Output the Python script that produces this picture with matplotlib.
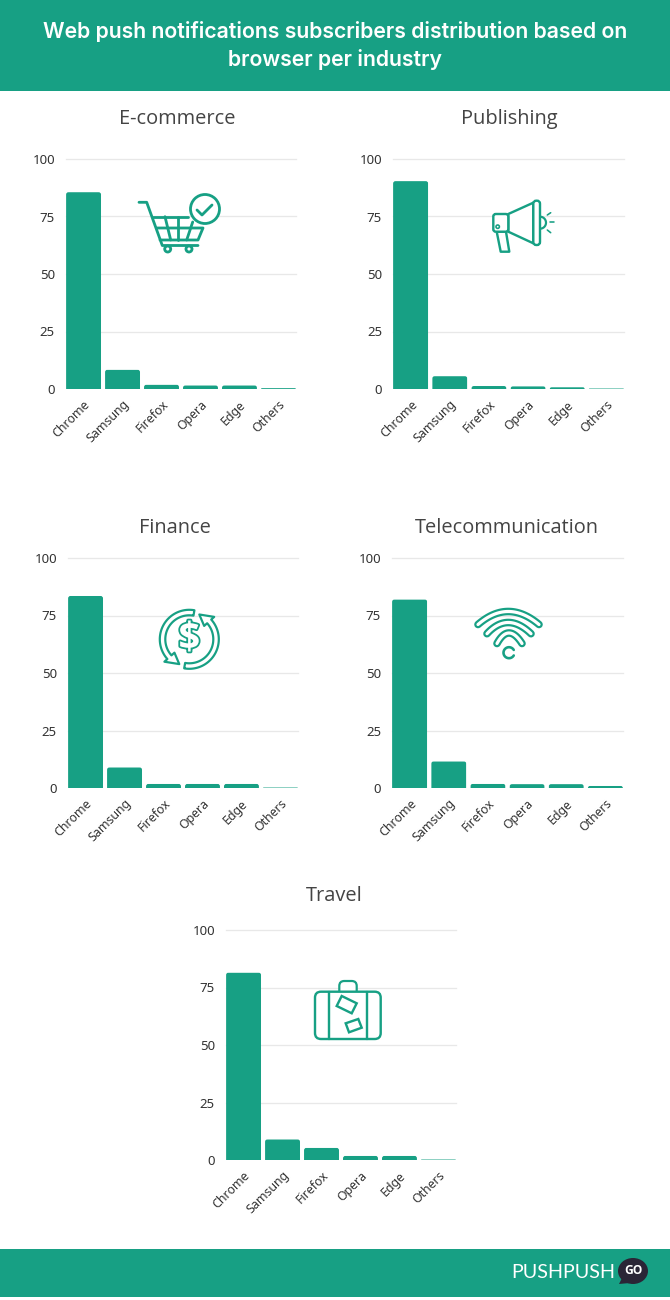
import numpy as np
import matplotlib
matplotlib.use("Agg")
import matplotlib.pyplot as plt
import matplotlib.patheffects as pe
from matplotlib.lines import Line2D
from matplotlib.patches import Circle, FancyBboxPatch, Polygon, Rectangle, Ellipse
from matplotlib.transforms import IdentityTransform

TEAL = "#17a084"
INK = "#333333"
FIG_W, FIG_H = 670, 1300

browsers = ["Chrome", "Samsung", "Firefox", "Opera", "Edge", "Others"]
ecommerce = [85.6, 8.4, 1.9, 1.6, 1.6, 0.4]
publishing = [90.4, 5.6, 1.3, 1.2, 0.8, 0.3]
finance = [83.5, 9.0, 1.8, 1.8, 1.8, 0.3]
telecommunication = [82.0, 11.6, 1.8, 1.7, 1.7, 0.9]
travel = [81.5, 9.0, 5.3, 1.8, 1.8, 0.3]
y_ticks = [0, 25, 50, 75, 100]

plt.rcParams["font.family"] = ["Noto Sans", "DejaVu Sans"]
fig = plt.figure(figsize=(FIG_W / 100, FIG_H / 100), dpi=100, facecolor="white")


def px(size):
    """Convert a length in pixels to points at 100 dpi."""
    return size * 0.72


def panel(title, values, left, right, top, bottom, title_x, title_y):
    ax = fig.add_axes([left / FIG_W, 1 - bottom / FIG_H,
                       (right - left) / FIG_W, (bottom - top) / FIG_H])
    ax.set_xlim(-0.45, 5.45)
    ax.set_ylim(0, 100)
    bars = ax.bar(range(len(browsers)), values, width=0.897, color=TEAL, zorder=3)
    ax.set_yticks(y_ticks)
    ax.set_xticks(range(len(browsers)))
    ax.set_xticklabels(browsers, rotation=45, ha="right", rotation_mode="anchor")
    ax.tick_params(axis="y", length=0, labelsize=px(13.2), labelcolor=INK, pad=px(11))
    ax.tick_params(axis="x", length=0, labelsize=px(12.4), labelcolor=INK, pad=px(9))
    ax.grid(axis="y", color="#e8e8e8", linewidth=px(1.3), zorder=0)
    ax.set_axisbelow(True)
    for gridline in ax.yaxis.get_gridlines():
        gridline.set_clip_on(False)
    ax.yaxis.get_gridlines()[0].set_visible(False)
    for spine in ax.spines.values():
        spine.set_visible(False)

    # Round the top corners of every bar by clipping it in display space.
    for bar in bars:
        (x0, y0), (x1, y1) = ax.transData.transform(
            [(bar.get_x(), 0), (bar.get_x() + bar.get_width(), bar.get_height())])
        clip = FancyBboxPatch((x0, y0 - 6), x1 - x0, y1 - y0 + 6,
                              boxstyle=f"round,pad=0,rounding_size={min(2.5, y1 - y0 + 0.2):.2f}",
                              transform=IdentityTransform())
        bar.set_clip_path(clip)
        bar.set_snap(False)

    overlay.text(title_x, title_y, title, ha="center", va="center",
                 fontsize=px(20), color="#444444", family="Open Sans")


overlay = fig.add_axes([0, 0, 1, 1], zorder=5)
overlay.set_xlim(0, FIG_W)
overlay.set_ylim(FIG_H, 0)
overlay.axis("off")
overlay.patch.set_alpha(0)

# Header and footer bands
overlay.add_patch(Rectangle((0, 0), FIG_W, 91, color=TEAL, lw=0))
overlay.add_patch(Rectangle((0, 1249), FIG_W, 48, color=TEAL, lw=0))
overlay.text(335, 32, "Web push notifications subscribers distribution based on",
             ha="center", va="center", color="white", fontsize=px(21.2),
             family="Inter", fontweight="semibold")
overlay.text(335, 60, "browser per industry", ha="center", va="center",
             color="white", fontsize=px(21.2), family="Inter", fontweight="semibold")

panel("E-commerce", ecommerce, 66, 296, 159, 389, 177, 119)
panel("Publishing", publishing, 393, 624, 159, 389, 509, 119)
panel("Finance", finance, 68, 298, 558, 788, 175, 528)
panel("Telecommunication", telecommunication, 392, 623, 558, 788, 507, 528)
panel("Travel", travel, 226, 456, 930, 1160, 334, 896)


def stroke(points, width=2.3, color=TEAL, z=6):
    xs, ys = zip(*points)
    overlay.add_line(Line2D(xs, ys, color=color, lw=px(width), zorder=z,
                            solid_capstyle="round", solid_joinstyle="round"))


def ring(cx, cy, r, width=2.3, face="none", z=6):
    overlay.add_patch(Circle((cx, cy), r, fc=face, ec=TEAL, lw=px(width), zorder=z))


def rounded(x0, y0, x1, y1, r, width=2.4, z=6, face="white"):
    overlay.add_patch(FancyBboxPatch((x0, y0), x1 - x0, y1 - y0,
                                     boxstyle=f"round,pad=0,rounding_size={r}",
                                     fc=face, ec=TEAL, lw=px(width), zorder=z))


# Shopping cart with check mark
CART = 2.8
stroke([(139, 202.3), (146.7, 202.3), (162.3, 245.5), (198, 245.5)], width=CART)
stroke([(153, 216.7), (188, 216.7)], width=CART)
stroke([(157, 228), (203, 228), (198, 240), (160, 240)], width=CART)
stroke([(165, 216.7), (170.7, 240)], width=CART)
stroke([(178, 216.7), (178, 240)], width=CART)
stroke([(192.7, 222), (186.7, 240)], width=CART)
ring(167.7, 249, 3, width=CART, face="white")
ring(189, 249, 3, width=CART, face="white")
ring(205, 209, 14.5, width=CART, face="white")
stroke([(197, 210), (202, 215), (212, 205)], width=CART)

# Megaphone
overlay.add_patch(Polygon([(496.7, 231.7), (500.7, 251.7), (509.3, 251.7), (506, 231.7)],
                          closed=True, fc="white", ec=TEAL, lw=px(2.4), zorder=6,
                          joinstyle="round"))
overlay.add_patch(Polygon([(508.3, 214), (533.3, 202.7), (533.3, 243.3), (508.3, 231.7)],
                          closed=True, fc="white", ec=TEAL, lw=px(2.4), zorder=6,
                          joinstyle="round"))
rounded(493.3, 214, 508.3, 231.7, 2.5, z=7)
ring(497.7, 226.7, 1.7, width=1.6, z=8)
theta = np.linspace(-np.pi / 2, np.pi / 2, 30)
stroke(list(zip(540 + 6 * np.cos(theta), 222.7 + 6 * np.sin(theta))), width=2.2)
rounded(533.3, 200.7, 540, 245, 3, z=7)
stroke([(547.3, 215), (550.7, 212.7)], width=1.6)
stroke([(550, 222.3), (554, 222.3)], width=1.6)
stroke([(547.3, 230), (550.7, 232.7)], width=1.6)


# Circular arrows around a dollar sign
def circular_arrow(cx, cy, start, end, tip):
    outer, inner = 29.5, 24
    mid = (outer + inner) / 2
    a = np.radians(np.linspace(start, end, 50))
    xy = [(cx + outer * np.cos(t), cy - outer * np.sin(t)) for t in a]
    e, p = np.radians(end), np.radians(tip)
    xy.append((cx + (outer + 4) * np.cos(e), cy - (outer + 4) * np.sin(e)))
    xy.append((cx + mid * np.cos(p), cy - mid * np.sin(p)))
    xy.append((cx + (inner - 4) * np.cos(e), cy - (inner - 4) * np.sin(e)))
    xy += [(cx + inner * np.cos(t), cy - inner * np.sin(t)) for t in a[::-1]]
    overlay.add_patch(Polygon(xy, closed=True, fc="white", ec=TEAL, lw=px(2.2),
                              zorder=6, joinstyle="round"))


circular_arrow(189.3, 639.3, 80, 222, 248)
circular_arrow(189.3, 639.3, 260, 402, 428)
overlay.text(189.3, 639.3, r"\$", ha="center", va="center", fontsize=px(38),
             color="white", family="Open Sans", zorder=7, fontweight="bold",
             path_effects=[pe.withStroke(linewidth=px(3.6), foreground=TEAL)])


# Wi-Fi signal: each band is a wide stroke with a thinner white core
def wifi_band(a, b, peak):
    a, b, peak = map(np.array, (a, b, peak))
    ctrl = 2 * peak - (a + b) / 2
    t = np.linspace(0, 1, 60)[:, None]
    curve = (1 - t) ** 2 * a + 2 * t * (1 - t) * ctrl + t ** 2 * b
    stroke(curve, width=7.6, z=6)
    stroke(curve, width=3.2, color="white", z=7)


wifi_band((478, 624.5), (539, 624.5), (508.3, 611.5))
wifi_band((487, 633.7), (531, 633.7), (508.3, 622.5))
wifi_band((497, 643.5), (522, 643.5), (509, 633))
theta = np.radians(np.linspace(30, 330, 40))
stroke(list(zip(509 + 5.5 * np.cos(theta), 652.7 - 5.5 * np.sin(theta))), width=2.6)

# Suitcase with stickers
rounded(339.3, 981, 356.7, 997, 5, width=2.2, z=6)
rounded(315, 991.7, 380.7, 1039, 6, width=2.4, z=7)
stroke([(329.3, 991.7), (329.3, 1039)], width=2.4, z=8)
stroke([(366.7, 991.7), (366.7, 1039)], width=2.4, z=8)
overlay.add_patch(Polygon([(341.7, 996), (356.7, 1003.3), (351.7, 1013.3), (336.7, 1006)],
                          closed=True, fc="none", ec=TEAL, lw=px(2.4), zorder=8))
overlay.add_patch(Polygon([(345.7, 1023.3), (358.3, 1019), (361.7, 1027.7), (349, 1032.3)],
                          closed=True, fc="none", ec=TEAL, lw=px(2.4), zorder=8))

# Footer wordmark
overlay.text(511, 1272.5, "PUSHPUSH", ha="left", va="center", color="white",
             fontsize=px(19.8), family="Lato", zorder=6)
overlay.add_patch(Ellipse((633, 1271), 30, 26, fc="#2a2536", ec="none", zorder=6))
overlay.add_patch(Polygon([(622, 1278), (619, 1284), (630, 1283)], closed=True,
                          fc="#2a2536", ec="none", zorder=6))
overlay.text(633, 1271, "GO", ha="center", va="center", color="white",
             fontsize=px(12), family="Open Sans", fontweight="bold", zorder=7)

fig.savefig("out.png", dpi=100, facecolor="white")
